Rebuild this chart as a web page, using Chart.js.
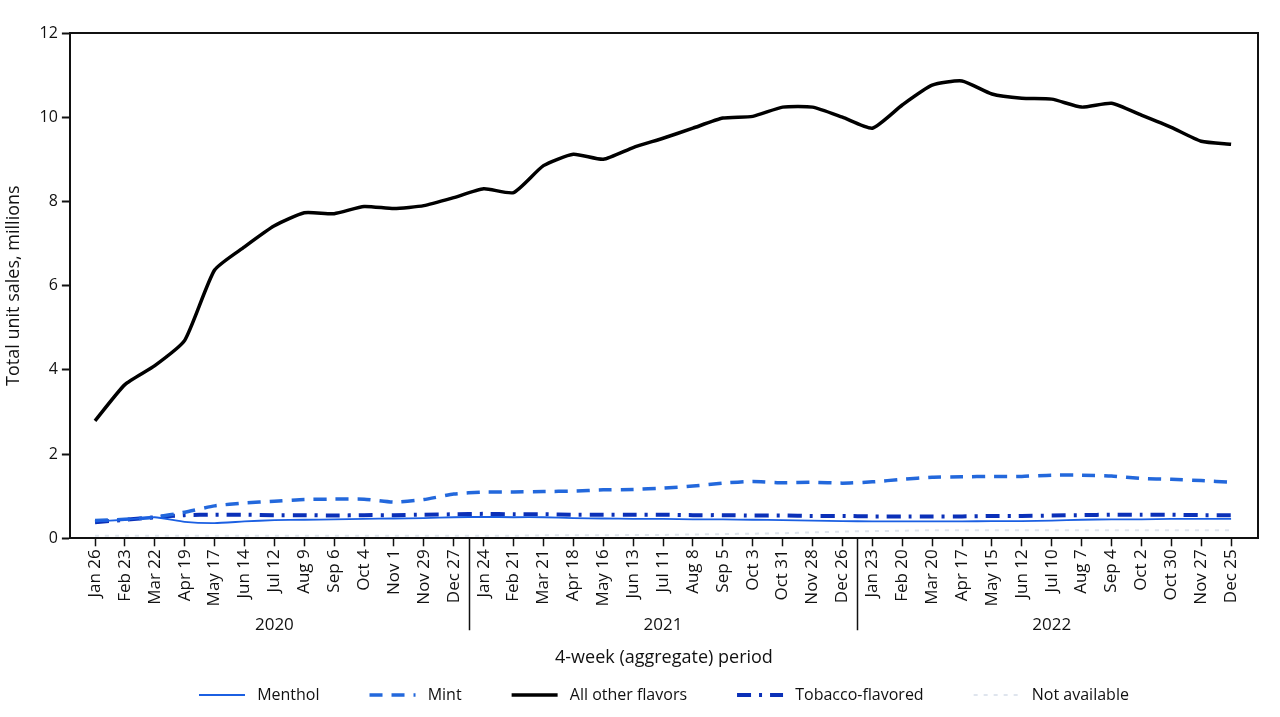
<!DOCTYPE html>
<html>
<head>
<meta charset="utf-8">
<script src="https://cdn.jsdelivr.net/npm/chart.js@4/dist/chart.umd.min.js"></script>
<style>
  html, body { margin: 0; padding: 0; background: #fff; }
  #wrap { width: 1280px; height: 717px; }
</style>
</head>
<body>
<div id="wrap"><canvas id="chart"></canvas></div>
<script>
const periods = [
  "Jan 26", "Feb 23", "Mar 22", "Apr 19", "May 17", "Jun 14", "Jul 12", "Aug 9", "Sep 6", "Oct 4", "Nov 1", "Nov 29", "Dec 27",
  "Jan 24", "Feb 21", "Mar 21", "Apr 18", "May 16", "Jun 13", "Jul 11", "Aug 8", "Sep 5", "Oct 3", "Oct 31", "Nov 28", "Dec 26",
  "Jan 23", "Feb 20", "Mar 20", "Apr 17", "May 15", "Jun 12", "Jul 10", "Aug 7", "Sep 4", "Oct 2", "Oct 30", "Nov 27", "Dec 25"
];
const years = ["2020", "2021", "2022"];

// unit sales, millions
const menthol = [
  0.40, 0.44, 0.50, 0.39, 0.36, 0.40, 0.43, 0.44, 0.45, 0.46, 0.47, 0.48, 0.50,
  0.51, 0.50, 0.50, 0.48, 0.47, 0.46, 0.46, 0.45, 0.45, 0.44, 0.43, 0.42, 0.41,
  0.40, 0.40, 0.40, 0.40, 0.41, 0.41, 0.42, 0.44, 0.45, 0.45, 0.46, 0.46, 0.46
];
const mint = [
  0.42, 0.45, 0.50, 0.62, 0.77, 0.84, 0.88, 0.92, 0.93, 0.93, 0.86, 0.92, 1.05,
  1.10, 1.10, 1.11, 1.12, 1.15, 1.16, 1.19, 1.24, 1.31, 1.35, 1.32, 1.33, 1.31,
  1.34, 1.40, 1.45, 1.46, 1.47, 1.47, 1.50, 1.50, 1.48, 1.42, 1.40, 1.37, 1.33
];
const allOther = [
  2.79, 3.65, 4.10, 4.70, 6.37, 6.92, 7.42, 7.73, 7.71, 7.88, 7.83, 7.90, 8.09,
  8.30, 8.21, 8.85, 9.12, 9.00, 9.28, 9.50, 9.74, 9.98, 10.02, 10.24, 10.24, 10.00,
  9.74, 10.29, 10.76, 10.86, 10.55, 10.45, 10.43, 10.24, 10.33, 10.05, 9.76, 9.43, 9.36
];
const tobacco = [
  0.38, 0.44, 0.50, 0.55, 0.56, 0.56, 0.55, 0.55, 0.54, 0.55, 0.55, 0.56, 0.57,
  0.58, 0.57, 0.57, 0.56, 0.56, 0.56, 0.56, 0.55, 0.55, 0.54, 0.54, 0.53, 0.53,
  0.52, 0.52, 0.52, 0.52, 0.53, 0.53, 0.54, 0.55, 0.56, 0.56, 0.56, 0.55, 0.55
];
const notAvailable = [
  0.06, 0.06, 0.06, 0.06, 0.06, 0.06, 0.06, 0.06, 0.06, 0.06, 0.06, 0.06, 0.06,
  0.06, 0.06, 0.07, 0.07, 0.07, 0.08, 0.08, 0.09, 0.10, 0.11, 0.12, 0.14, 0.16,
  0.17, 0.18, 0.19, 0.19, 0.19, 0.19, 0.19, 0.19, 0.19, 0.19, 0.19, 0.19, 0.19
];
const yTicks = [0, 2, 4, 6, 8, 10, 12];

const FONT = "'Open Sans', 'Noto Sans', sans-serif";
const pts = (arr) => arr.map((v, i) => ({ x: i, y: v }));

// frame + year separators under the x axis
const yearMarks = {
  id: "yearMarks",
  afterDraw(chart) {
    const { ctx, chartArea: a, scales: { x } } = chart;
    ctx.save();
    ctx.strokeStyle = "#111";
    ctx.lineWidth = 2;
    ctx.beginPath();
    ctx.moveTo(a.left, a.top);
    ctx.lineTo(a.right, a.top);
    ctx.lineTo(a.right, a.bottom);
    ctx.stroke();

    ctx.lineWidth = 1.5;
    ctx.beginPath();
    [12.5, 25.5].forEach((v) => {
      const px = Math.round(x.getPixelForValue(v)) + 0.5;
      ctx.moveTo(px, a.bottom);
      ctx.lineTo(px, a.bottom + 92);
    });
    ctx.stroke();

    ctx.fillStyle = "#111";
    ctx.font = "17px " + FONT;
    ctx.textAlign = "center";
    ctx.textBaseline = "middle";
    years.forEach((yr, i) => {
      ctx.fillText(yr, x.getPixelForValue(i * 13 + 6), 625);
    });
    ctx.restore();
  },
};

new Chart(document.getElementById("chart"), {
  type: "line",
  data: {
    datasets: [
      { label: "Menthol", data: pts(menthol), borderColor: "#1b5fe2", borderWidth: 1.8 },
      { label: "Mint", data: pts(mint), borderColor: "#2368dc", borderWidth: 3.5, borderDash: [13, 9] },
      { label: "All other flavors", data: pts(allOther), borderColor: "#000", borderWidth: 3.5 },
      { label: "Tobacco-flavored", data: pts(tobacco), borderColor: "#0b30b8", borderWidth: 4, borderDash: [14, 8, 3, 8] },
      { label: "Not available", data: pts(notAvailable), borderColor: "#dfe5ee", borderWidth: 2, borderDash: [4, 6] },
    ],
  },
  options: {
    responsive: true,
    maintainAspectRatio: false,
    animation: false,
    layout: { padding: { top: 33, right: 22, left: 3, bottom: 4 } },
    elements: {
      point: { radius: 0 },
      line: { tension: 0.18, fill: false },
    },
    plugins: {
      tooltip: { enabled: false },
      legend: {
        position: "bottom",
        fullSize: false,
        labels: {
          usePointStyle: true,
          pointStyleWidth: 46,
          padding: 18,
          color: "#111",
          font: { family: FONT, size: 16 },
          generateLabels: (chart) => chart.data.datasets.map((ds, i, all) => ({
            text: " " + ds.label + (i < all.length - 1 ? "\u2003\u2003" : ""),
            strokeStyle: ds.borderColor,
            fillStyle: ds.borderColor,
            lineWidth: ds.borderWidth,
            lineDash: ds.borderDash || [],
            pointStyle: "line",
            fontColor: "#111",
            hidden: false,
            datasetIndex: i,
          })),
        },
      },
    },
    scales: {
      x: {
        type: "linear",
        min: -0.84,
        max: 38.9,
        afterBuildTicks: (s) => { s.ticks = periods.map((_, i) => ({ value: i })); },
        grid: { drawOnChartArea: false, drawTicks: true, tickLength: 8, tickColor: "#111", tickWidth: 1.5 },
        border: { color: "#111", width: 2 },
        ticks: {
          autoSkip: false,
          maxRotation: 90,
          minRotation: 90,
          padding: 3,
          color: "#111",
          font: { family: FONT, size: 17 },
          callback: (v) => periods[v],
        },
        title: {
          display: true,
          text: "4-week (aggregate) period",
          color: "#111",
          font: { family: FONT, size: 18 },
          padding: { top: 38, bottom: 0 },
        },
      },
      y: {
        min: 0,
        max: 12,
        afterBuildTicks: (s) => { s.ticks = yTicks.map((v) => ({ value: v })); },
        grid: { drawOnChartArea: false, drawTicks: true, tickLength: 8, tickColor: "#111", tickWidth: 2 },
        border: { color: "#111", width: 2 },
        ticks: {
          padding: 4,
          color: "#111",
          font: { family: FONT, size: 16 },
        },
        title: {
          display: true,
          text: "Total unit sales, millions",
          color: "#111",
          font: { family: FONT, size: 18 },
          padding: { top: 0, bottom: 11 },
        },
      },
    },
  },
  plugins: [yearMarks],
});
</script>
</body>
</html>
